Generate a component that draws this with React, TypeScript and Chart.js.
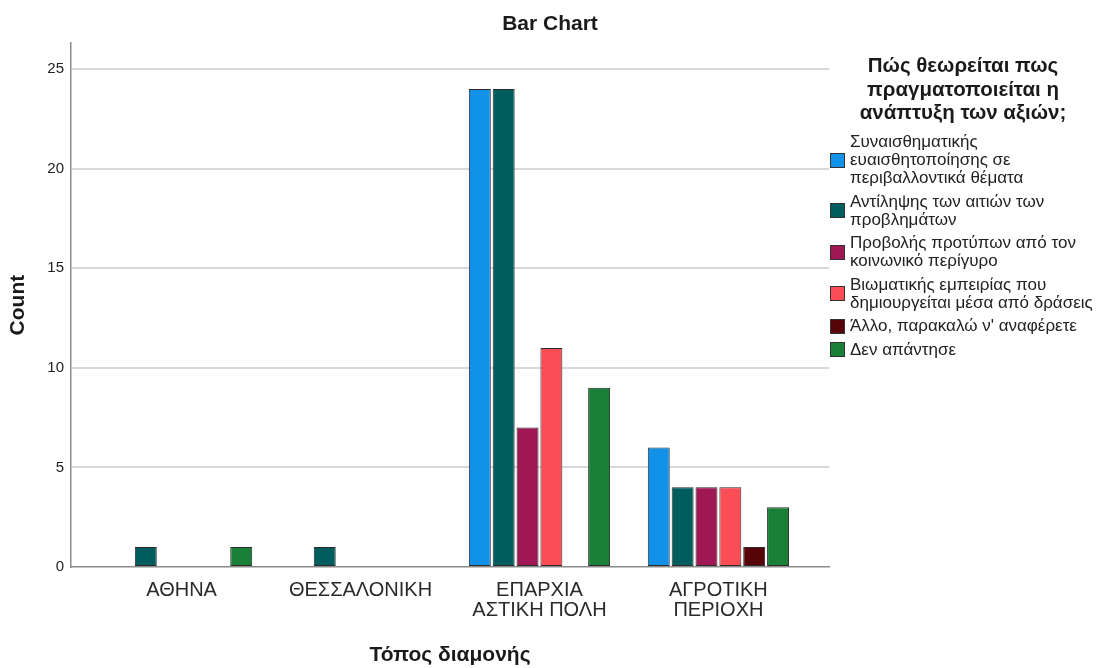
import React, { useEffect, useRef } from 'react';
import { Chart, registerables } from 'chart.js';

Chart.register(...registerables);

const FONT = '"Liberation Sans", Arial, Helvetica, sans-serif';

const CHART_TITLE = 'Bar Chart';
const X_TITLE = 'Τόπος διαμονής';
const Y_TITLE = 'Count';

const CATEGORIES: string[][] = [
  ['ΑΘΗΝΑ'],
  ['ΘΕΣΣΑΛΟΝΙΚΗ'],
  ['ΕΠΑΡΧΙΑ', 'ΑΣΤΙΚΗ ΠΟΛΗ'],
  ['ΑΓΡΟΤΙΚΗ', 'ΠΕΡΙΟΧΗ'],
];

const Y_TICKS = [0, 5, 10, 15, 20, 25];

const LEGEND_TITLE = ['Πώς θεωρείται πως', 'πραγματοποιείται η', 'ανάπτυξη των αξιών;'];

const SERIES_LABELS: string[][] = [
  ['Συναισθηματικής', 'ευαισθητοποίησης σε', 'περιβαλλοντικά θέματα'],
  ['Αντίληψης των αιτιών των', 'προβλημάτων'],
  ['Προβολής προτύπων από τον', 'κοινωνικό περίγυρο'],
  ['Βιωματικής εμπειρίας που', 'δημιουργείται μέσα από δράσεις'],
  ["Άλλο, παρακαλώ ν' αναφέρετε"],
  ['Δεν απάντησε'],
];

const SERIES_COLORS = ['#1192e8', '#005d5d', '#9f1853', '#fa4d56', '#570408', '#198038'];

// counts per category: ΑΘΗΝΑ, ΘΕΣΣΑΛΟΝΙΚΗ, ΕΠΑΡΧΙΑ ΑΣΤΙΚΗ ΠΟΛΗ, ΑΓΡΟΤΙΚΗ ΠΕΡΙΟΧΗ
const EMOTIONAL = [0, 0, 24, 6];
const PERCEPTION = [1, 1, 24, 4];
const ROLE_MODELS = [0, 0, 7, 4];
const EXPERIENCE = [0, 0, 11, 4];
const OTHER = [0, 0, 0, 1];
const NO_ANSWER = [1, 0, 9, 3];

const SERIES_VALUES = [EMOTIONAL, PERCEPTION, ROLE_MODELS, EXPERIENCE, OTHER, NO_ANSWER];

const legendPlugin = {
  id: 'spssLegend',
  afterDraw(chart: any) {
    const ctx = chart.ctx as CanvasRenderingContext2D;
    ctx.save();
    ctx.fillStyle = '#1a1a1a';
    ctx.textBaseline = 'alphabetic';
    ctx.textAlign = 'center';
    ctx.font = `bold 20.5px ${FONT}`;
    LEGEND_TITLE.forEach((t, i) => ctx.fillText(t, 963, 72 + i * 23.5));

    ctx.font = `17px ${FONT}`;
    ctx.textAlign = 'left';
    let y = 147;
    chart.data.datasets.forEach((ds: any, i: number) => {
      const lines = SERIES_LABELS[i];
      ctx.fillStyle = '#222';
      lines.forEach((l, j) => ctx.fillText(l, 850, y + j * 18));
      const last = y + (lines.length - 1) * 18;
      const mid = (y + last) / 2 - 5;
      ctx.fillStyle = ds.backgroundColor;
      ctx.fillRect(830, Math.round(mid - 7.5), 15, 15);
      ctx.strokeStyle = '#333';
      ctx.lineWidth = 1;
      ctx.strokeRect(830.5, Math.round(mid - 7.5) + 0.5, 14, 14);
      y = last + 23.5;
    });
    ctx.restore();
  },
};

export default function App() {
  const ref = useRef<HTMLCanvasElement | null>(null);

  useEffect(() => {
    document.body.style.margin = '0';
    if (!ref.current) return;
    const chart = new Chart(ref.current, {
      type: 'bar',
      data: {
        labels: CATEGORIES.map((_, i) => i),
        datasets: SERIES_VALUES.map((vals, i) => ({
          label: SERIES_LABELS[i].join(' '),
          data: vals,
          backgroundColor: SERIES_COLORS[i],
          borderColor: '#2b2b2b',
          borderWidth: (c: any) => (c.raw ? 1 : 0),
          borderSkipped: false,
          categoryPercentage: 0.8,
          barPercentage: 0.92,
        })),
      },
      options: {
        animation: false,
        responsive: true,
        maintainAspectRatio: false,
        layout: { padding: 0 },
        plugins: {
          legend: { display: false },
          tooltip: { enabled: false },
          title: {
            display: true,
            text: CHART_TITLE,
            color: '#1a1a1a',
            font: { family: FONT, size: 21, weight: 'bold' },
            padding: { top: 12, bottom: 6 },
          },
        },
        scales: {
          x: {
            type: 'linear',
            position: 'bottom',
            offset: false,
            min: -0.618,
            max: 3.618,
            afterBuildTicks: (s: any) => {
              s.ticks = CATEGORIES.map((_, i) => ({ value: i }));
            },
            afterFit: (s: any) => {
              s.height = 101;
            },
            grid: { display: false, drawTicks: false },
            border: { display: true, color: '#8c8c8c', width: 1.5 },
            ticks: {
              padding: 13.5,
              autoSkip: false,
              maxRotation: 0,
              color: '#2a2a2a',
              font: { family: FONT, size: 20, lineHeight: 1 },
              callback: (v: any) => CATEGORIES[Math.round(Number(v))] ?? '',
            },
            title: {
              display: true,
              text: X_TITLE,
              color: '#1a1a1a',
              font: { family: FONT, size: 21, weight: 'bold' },
              padding: { top: 0, bottom: 0 },
            },
          },
          y: {
            type: 'linear',
            position: 'left',
            min: 0,
            max: 26.3,
            afterBuildTicks: (s: any) => {
              s.ticks = Y_TICKS.map((v) => ({ value: v }));
            },
            afterFit: (s: any) => {
              s.width = 71;
            },
            grid: {
              drawTicks: false,
              color: (c: any) => (c.tick && c.tick.value === 0 ? 'rgba(0,0,0,0)' : '#d9d9d9'),
              lineWidth: 2,
            },
            border: { display: true, color: '#8c8c8c', width: 1.5 },
            ticks: {
              padding: 7,
              color: '#222',
              font: { family: FONT, size: 15 },
            },
            title: {
              display: true,
              text: Y_TITLE,
              color: '#1a1a1a',
              font: { family: FONT, size: 21, weight: 'bold' },
              padding: { top: 6, bottom: 0 },
            },
          },
          legendSpace: {
            type: 'linear',
            position: 'right',
            display: true,
            afterFit: (s: any) => {
              s.width = 271;
            },
            grid: { display: false, drawTicks: false },
            border: { display: false },
            ticks: { display: false },
          },
        },
      } as any,
      plugins: [legendPlugin],
    });
    return () => chart.destroy();
  }, []);

  return (
    <div style={{ position: 'absolute', left: 0, top: 0, width: 1100, height: 668 }}>
      <canvas ref={ref} />
    </div>
  );
}
